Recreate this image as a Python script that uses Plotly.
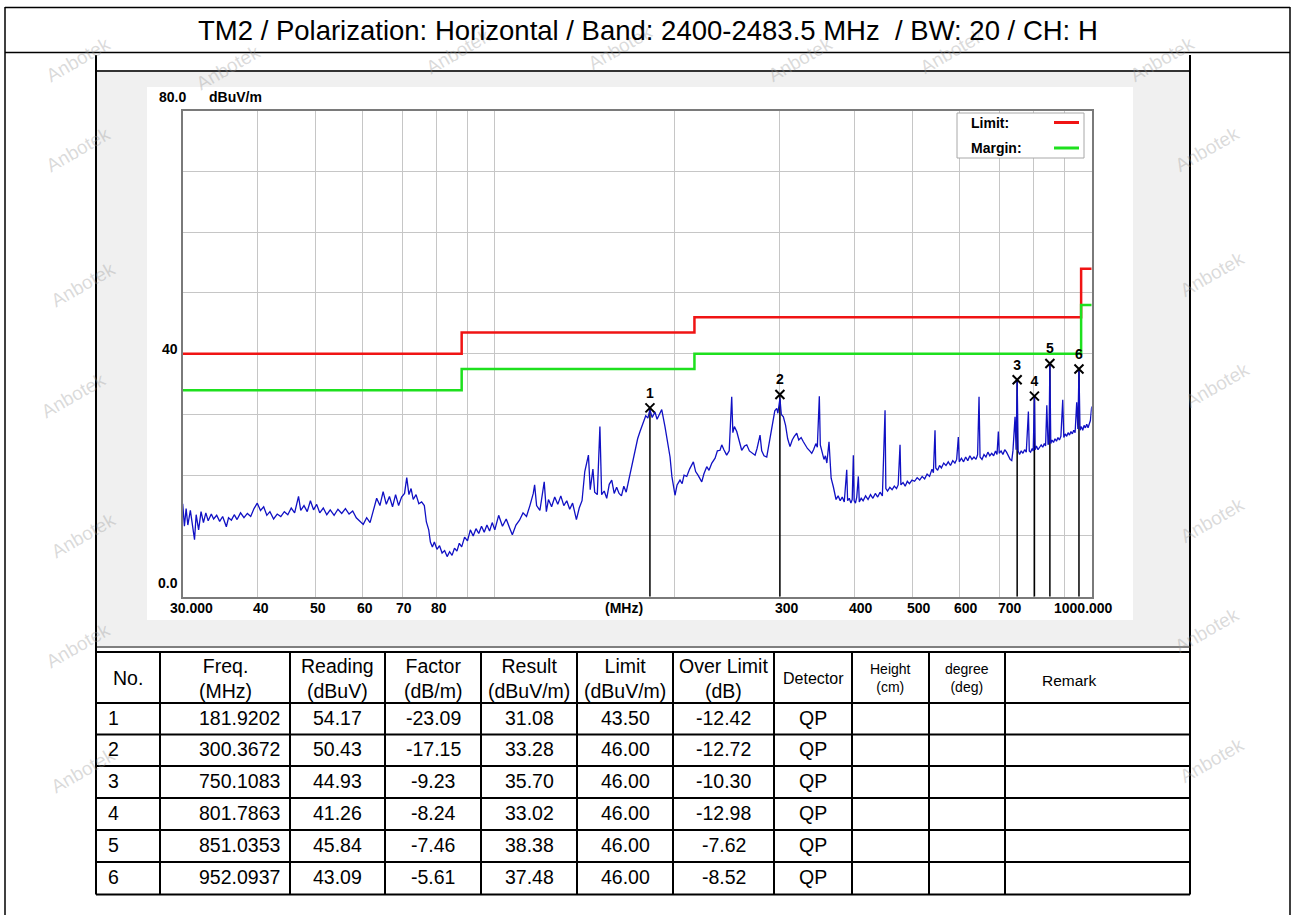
import math
import plotly.graph_objects as go

W, H = 1292, 915


def px(x):
    return x / W


def py(y):
    return 1 - y / H


# ---------------- data ----------------
FREQ_MHZ = [
    30.0, 30.2, 30.4, 30.6, 30.9, 31.1, 31.4, 31.6, 31.9, 32.2, 32.5, 32.8, 33.1, 33.5, 33.8,
    34.2, 34.6, 35.0, 35.5, 35.8, 36.2, 36.6, 37.0, 37.5, 38.0, 38.5, 39.0, 39.5, 40.0, 40.5,
    41.0, 41.5, 42.0, 42.6, 43.2, 43.8, 44.4, 45.0, 45.6, 46.2, 46.9, 47.3, 47.9, 48.5, 49.1,
    49.7, 50.3, 50.9, 51.6, 52.3, 53.0, 53.8, 54.6, 55.4, 56.2, 57.0, 57.8, 58.6, 59.4, 60.2,
    61.0, 61.8, 62.6, 63.4, 64.2, 65.0, 65.8, 66.6, 67.4, 68.2, 69.0, 69.8, 70.6, 71.2, 71.8,
    72.4, 73.0, 73.8, 74.6, 75.4, 76.2, 76.8, 77.5, 78.0, 78.6, 79.2, 80.0, 80.8, 81.6, 82.4,
    83.2, 84.0, 84.8, 85.6, 86.4, 87.2, 88.0, 89.0, 90.0, 91.0, 92.0, 93.0, 94.0, 95.0, 96.0,
    97.0, 98.0, 99.0, 100.0, 101.5, 103.0, 104.5, 106.0, 107.0, 108.5, 110.0, 111.5, 113.0, 114.5, 116.0,
    116.6, 117.5, 119.0, 120.0, 121.0, 122.0, 123.0, 124.5, 126.0, 127.5, 129.0, 130.5, 132.0, 133.5, 135.0,
    137.0, 138.5, 140.0, 141.5, 143.5, 144.5, 146.0, 147.0, 148.5, 150.0, 151.0, 152.5, 154.0, 155.5, 157.0,
    158.5, 160.0, 161.5, 163.0, 164.5, 166.0, 167.5, 169.0, 170.5, 172.0, 173.5, 175.1, 177.0, 179.0, 180.5,
    181.9, 183.5, 185.5, 187.0, 189.0, 190.4, 192.8, 194.5, 196.6, 198.0, 200.4, 202.0, 204.3, 206.0, 207.5,
    209.7, 212.0, 215.1, 217.0, 219.0, 222.2, 224.0, 226.5, 228.5, 231.0, 233.9, 236.0, 238.4, 240.0, 242.0,
    244.6, 247.0, 249.4, 250.5, 252.0, 254.3, 256.5, 259.2, 262.0, 264.3, 267.0, 270.0, 272.9, 275.0, 278.2,
    280.0, 282.5, 285.5, 288.0, 290.5, 292.8, 294.5, 296.7, 298.0, 299.3, 300.4, 302.0, 304.4, 307.0, 309.5,
    312.3, 315.0, 317.5, 320.5, 323.0, 326.0, 328.8, 331.0, 334.0, 337.0, 339.6, 342.0, 345.0, 347.0, 349.7,
    351.0, 353.0, 356.0, 358.0, 360.0, 363.0, 364.5, 366.0, 369.1, 371.0, 373.0, 376.0, 379.0, 382.0, 385.0,
    388.7, 390.0, 392.5, 395.0, 397.0, 398.7, 400.0, 402.0, 404.0, 406.5, 408.0, 411.0, 414.0, 418.0, 422.0,
    426.0, 430.0, 434.0, 438.0, 442.0, 446.0, 450.6, 452.0, 455.0, 459.0, 463.0, 467.0, 471.0, 474.0, 477.4,
    479.0, 483.0, 487.0, 491.0, 495.0, 500.0, 505.0, 510.0, 515.0, 520.0, 525.0, 530.0, 535.0, 540.0, 543.0,
    546.4, 548.0, 552.0, 556.0, 560.0, 565.0, 570.0, 575.0, 580.0, 585.0, 590.0, 594.0, 597.8, 600.0, 605.0,
    610.0, 615.0, 620.0, 625.0, 630.0, 635.0, 640.0, 644.0, 647.5, 650.0, 655.0, 660.0, 665.0, 670.0, 675.0,
    680.0, 685.0, 690.0, 694.0, 697.6, 700.0, 705.0, 710.0, 715.0, 720.0, 725.0, 730.0, 734.6, 738.0, 744.0,
    747.0, 750.1, 753.0, 757.0, 762.0, 767.0, 772.0, 777.0, 783.3, 786.0, 790.0, 795.0, 798.0, 801.8, 804.0,
    808.0, 813.0, 818.0, 823.0, 828.0, 833.0, 837.0, 841.0, 845.0, 848.0, 851.0, 854.0, 858.0, 863.0, 868.0,
    873.0, 878.0, 883.0, 888.0, 894.3, 898.0, 903.0, 908.0, 913.0, 918.0, 923.0, 928.0, 933.0, 938.0, 943.8,
    948.0, 952.1, 956.0, 961.0, 966.0, 971.0, 976.0, 981.0, 986.0, 991.0, 995.0, 1000.0,
]
LEVEL_DBUV = [
    15.3, 11.6, 14.5, 11.8, 14.2, 12.0, 9.4, 13.5, 11.0, 14.0, 12.2, 13.8, 12.5, 13.6, 12.8,
    13.4, 12.4, 13.2, 11.5, 13.0, 12.6, 13.5, 12.7, 13.8, 13.0, 13.7, 13.2, 14.5, 15.4, 14.2,
    14.8, 13.4, 14.0, 12.8, 13.6, 13.2, 14.0, 13.5, 14.6, 13.8, 16.5, 14.2, 15.0, 14.0, 15.8,
    14.3, 15.2, 13.8, 14.6, 13.5, 14.3, 13.4, 14.4, 13.7, 14.5, 13.6, 14.1, 13.0, 12.4, 11.9,
    13.0, 12.2, 14.2, 16.2, 15.0, 17.3, 15.2, 16.5, 14.8, 16.8, 15.0, 16.4, 17.0, 19.6, 16.8,
    17.8, 16.0, 16.8, 15.3, 15.6, 15.0, 12.3, 11.0, 9.0, 8.2, 9.0, 7.8, 8.4, 7.2, 7.6,
    6.6, 7.4, 6.8, 8.0, 7.5, 8.8, 8.2, 9.8, 9.2, 11.0, 10.0, 11.2, 10.4, 11.6, 10.6,
    11.8, 10.8, 12.2, 11.0, 13.4, 11.6, 12.8, 11.2, 10.2, 11.8, 12.6, 13.8, 13.2, 15.0, 17.0,
    18.4, 15.0, 14.2, 16.5, 18.9, 14.0, 16.0, 14.8, 16.4, 15.2, 16.6, 15.0, 15.8, 14.4, 15.4,
    12.7, 14.6, 15.8, 20.6, 23.3, 17.6, 21.0, 17.2, 16.8, 28.0, 16.8, 17.4, 16.2, 18.5, 19.2,
    17.0, 18.0, 17.0, 16.6, 18.2, 17.2, 19.0, 20.9, 22.5, 24.0, 26.0, 27.2, 28.6, 29.8, 29.4,
    30.8, 29.5, 30.4, 29.2, 30.0, 30.8, 28.0, 25.5, 23.0, 19.8, 16.7, 18.4, 19.2, 18.6, 20.0,
    19.8, 21.0, 22.2, 20.6, 20.0, 18.9, 20.2, 21.4, 20.8, 22.0, 22.8, 24.0, 24.1, 25.0, 24.2,
    23.3, 24.0, 32.9, 27.0, 28.0, 27.2, 25.8, 24.1, 24.8, 25.0, 24.0, 23.6, 23.3, 24.4, 26.6,
    24.0, 23.2, 23.0, 25.2, 27.8, 29.1, 30.6, 31.0, 30.2, 31.5, 32.6, 30.0, 29.6, 28.2, 26.0,
    24.7, 25.8, 26.4, 26.9, 25.8, 26.2, 25.5, 25.0, 24.4, 24.0, 23.6, 24.2, 25.2, 24.6, 33.0,
    25.0, 24.2, 22.6, 23.2, 22.0, 25.5, 21.4, 19.5, 18.1, 16.8, 16.0, 16.6, 15.8, 16.4, 15.6,
    20.9, 15.8, 16.2, 15.4, 16.0, 23.3, 15.8, 15.4, 16.4, 19.8, 15.6, 16.2, 15.8, 16.6, 16.0,
    16.8, 16.2, 17.0, 16.4, 17.2, 16.6, 30.7, 17.8, 17.4, 18.0, 17.6, 18.2, 17.8, 18.4, 25.0,
    18.4, 18.8, 18.2, 19.0, 18.6, 19.2, 19.0, 19.6, 19.2, 19.8, 19.4, 20.2, 19.8, 21.0, 20.4,
    27.4, 21.2, 20.8, 21.6, 21.2, 22.0, 21.6, 22.2, 21.6, 22.4, 22.0, 22.6, 26.3, 22.2, 22.8,
    22.2, 23.0, 22.4, 23.2, 22.6, 23.0, 22.6, 23.4, 32.9, 23.0, 22.6, 23.4, 23.0, 23.8, 23.2,
    23.6, 23.2, 24.0, 23.4, 27.2, 23.6, 24.0, 23.4, 24.2, 23.8, 23.2, 22.6, 22.4, 24.0, 29.6,
    24.2, 35.7, 24.0, 23.4, 24.0, 23.6, 24.2, 23.8, 30.5, 24.0, 23.8, 24.4, 24.0, 33.0, 24.2,
    24.8, 24.2, 24.6, 25.0, 24.6, 25.2, 24.8, 31.5, 25.0, 25.4, 38.4, 25.2, 25.8, 25.4, 26.0,
    25.6, 26.2, 25.8, 26.4, 32.4, 26.2, 26.8, 26.4, 27.0, 26.6, 27.2, 26.8, 27.4, 27.0, 32.0,
    27.6, 37.5, 27.4, 28.0, 27.4, 28.2, 27.8, 28.4, 27.8, 28.6, 29.0, 31.3,
]

LIMIT_FREQ = [30, 88, 216, 960, 1000]
LIMIT_DBUV = [40, 43.5, 46, 54, 54]
MARGIN_DBUV = [34, 37.5, 40, 48, 48]

MARK_NO = ["1", "2", "3", "4", "5", "6"]
MARK_FREQ = [181.9202, 300.3672, 750.1083, 801.7863, 851.0353, 952.0937]
READING = [54.17, 50.43, 44.93, 41.26, 45.84, 43.09]
FACTOR = [-23.09, -17.15, -9.23, -8.24, -7.46, -5.61]
RESULT = [31.08, 33.28, 35.70, 33.02, 38.38, 37.48]
LIMIT_AT = [43.50, 46.00, 46.00, 46.00, 46.00, 46.00]
OVER_LIMIT = [-12.42, -12.72, -10.30, -12.98, -7.62, -8.52]
DETECTOR = ["QP", "QP", "QP", "QP", "QP", "QP"]

GRID_FREQ = [30, 40, 50, 60, 70, 80, 90, 100, 200, 300, 400, 500, 600, 700, 800, 900, 1000]
TICK_FREQ = [30, 40, 50, 60, 70, 80, 300, 400, 500, 600, 700, 1000]
TICK_TEXT = ["30.000", "40", "50", "60", "70", "80", "300", "400", "500", "600", "700", "1000.000"]

TITLE = "TM2 / Polarization: Horizontal / Band: 2400-2483.5 MHz\u00a0 / BW: 20 / CH: H"
HEADERS = ["No.", "Freq.<br>(MHz)", "Reading<br>(dBuV)", "Factor<br>(dB/m)", "Result<br>(dBuV/m)",
           "Limit<br>(dBuV/m)", "Over Limit<br>(dB)", "Detector", "Height<br>(cm)",
           "degree<br>(deg)", "Remark"]

# ---------------- styles / layout positions ----------------
FONT = "Liberation Sans, Arial, sans-serif"
RED = "#f01414"
GREEN = "#1ee01e"
BLUE = "#1010c4"
GRID = "#c6c6c6"

PLOT_L, PLOT_R, PLOT_T, PLOT_B = 182.7, 1091.7, 110.7, 596.7
COLS = [96, 160, 290, 385, 481, 577, 673, 774, 852, 929, 1005, 1190]
ROWS = [652, 703, 734.5, 766, 798, 830, 862, 894.5]
TICK_SHIFT = [9, 4, 3, 3, 2, 2, 7, 7, 7, 7, 11, -8]
HEAD_SIZE = [19.5, 19.5, 19.5, 19.5, 19.5, 19.5, 19.5, 16, 14, 14, 15.5]

fig = go.Figure()

fig.add_trace(go.Scatter(x=LIMIT_FREQ, y=LIMIT_DBUV, mode="lines",
                         line=dict(color=RED, width=2.5, shape="hv"),
                         showlegend=False, hoverinfo="skip"))
fig.add_trace(go.Scatter(x=LIMIT_FREQ, y=MARGIN_DBUV, mode="lines",
                         line=dict(color=GREEN, width=2.5, shape="hv"),
                         showlegend=False, hoverinfo="skip"))

mx, my = [], []
for f, r in zip(MARK_FREQ, RESULT):
    mx += [f, f, None]
    my += [0, r, None]
fig.add_trace(go.Scatter(x=mx, y=my, mode="lines", line=dict(color="black", width=1.5),
                         showlegend=False, hoverinfo="skip"))

fig.add_trace(go.Scatter(x=FREQ_MHZ, y=LEVEL_DBUV, mode="lines",
                         line=dict(color=BLUE, width=1.3),
                         showlegend=False, hoverinfo="skip"))

fig.add_trace(go.Scatter(x=MARK_FREQ, y=RESULT, mode="markers+text", text=MARK_NO,
                         textposition="top center",
                         textfont=dict(family=FONT, size=14, color="black", weight="bold"),
                         marker=dict(symbol="x-thin", size=9, color="black",
                                     line=dict(width=2, color="black")),
                         showlegend=False, hoverinfo="skip", cliponaxis=False))

shapes = []


def hline(y, x0, x1, color="black", width=2):
    shapes.append(dict(type="line", xref="paper", yref="paper", x0=px(x0), x1=px(x1),
                       y0=py(y), y1=py(y), line=dict(color=color, width=width)))


def vline(x, y0, y1, color="black", width=2):
    shapes.append(dict(type="line", xref="paper", yref="paper", x0=px(x), x1=px(x),
                       y0=py(y0), y1=py(y1), line=dict(color=color, width=width)))


def rect(x0, y0, x1, y1, fill, line_color=None, width=0, layer="below"):
    shapes.append(dict(type="rect", xref="paper", yref="paper", x0=px(x0), x1=px(x1),
                       y0=py(y1), y1=py(y0), fillcolor=fill, layer=layer,
                       line=dict(color=line_color or fill, width=width)))


# panel backgrounds
rect(97, 72, 1189, 646, "#f0f0f0")
rect(147, 87, 1133, 620, "#ffffff")

# outer frame + title bar
vline(5, 7, 920, width=1.5)
vline(1290, 7, 920, width=1.5)
hline(7.5, 5, 1290, width=1.5)
hline(52.5, 5, 1290, width=1.5)

# chart panel frame
hline(71, 96, 1190, color="#333333", width=2)
hline(647, 96, 1190, color="#555555", width=1.5)
vline(96, 55, ROWS[-1], width=2)
vline(1190, 55, ROWS[-1], width=2)

# table grid
for r in ROWS:
    hline(r, 96, 1190, width=2)
for c in COLS[1:-1]:
    vline(c, ROWS[0], ROWS[-1], width=2)

# custom legend box
rect(957, 113, 1084, 158, "#ffffff", line_color="#a8a8a8", width=1, layer="above")
hline(122.5, 1054, 1079, color=RED, width=3)
hline(148, 1054, 1079, color=GREEN, width=3)

ann = []


def text(x, y, s, size, bold=False, anchor="center", xref="paper", color="black"):
    ann.append(dict(x=x if xref != "paper" else px(x), y=py(y), xref=xref, yref="paper", text=s,
                    showarrow=False, xanchor=anchor, yanchor="middle",
                    font=dict(family=FONT, size=size, color=color,
                              weight="bold" if bold else "normal")))


# watermarks
WM = [(40, 30), (190, 38), (420, 22), (620, 18), (800, 30), (990, 22), (1200, 30),
      (40, 120), (45, 255), (35, 395), (45, 535), (40, 675), (45, 800),
      (1245, 120), (1250, 245), (1255, 385), (1250, 520), (1245, 660), (1250, 790)]
for (wx, wy) in WM:
    ann.append(dict(x=px(wx), y=py(wy), xref="paper", yref="paper", text="Anbotek",
                    showarrow=False, textangle=-30,
                    font=dict(family=FONT, size=19, color="rgba(150,150,150,0.35)")))

# title
text(648, 31, TITLE, 27.5)

# axis texts
text(172, 97, "80.0", 14, bold=True)
text(235, 97, "dBuV/m", 14, bold=True)
text(170, 349, "40", 14, bold=True)
text(167.5, 583, "0.0", 14, bold=True)
text(624, 608, "(MHz)", 14, bold=True)
for v, t, s in zip(TICK_FREQ, TICK_TEXT, TICK_SHIFT):
    ann.append(dict(x=math.log10(v), y=py(608), xref="x", yref="paper", text=t,
                    showarrow=False, xanchor="center", yanchor="middle", xshift=s,
                    font=dict(family=FONT, size=14, color="black", weight="bold")))

# legend text
text(969, 123, "Limit:", 14, bold=True, anchor="left")
text(969, 148, "Margin:", 14, bold=True, anchor="left")

# table header
hy = (ROWS[0] + ROWS[1]) / 2 + 0.5
for i, (h, s) in enumerate(zip(HEADERS, HEAD_SIZE)):
    if h == "Remark":
        text(1040, hy + 2, h, s, anchor="left")
    else:
        text((COLS[i] + COLS[i + 1]) / 2, hy, h, s)

# table rows
for k in range(len(MARK_NO)):
    cy = (ROWS[k + 1] + ROWS[k + 2]) / 2 - 1
    text(106, cy, MARK_NO[k], 19.5, anchor="left")
    text(282, cy, f"{MARK_FREQ[k]:.4f}", 19.5, anchor="right")
    vals = [f"{READING[k]:.2f}", f"{FACTOR[k]:.2f}", f"{RESULT[k]:.2f}",
            f"{LIMIT_AT[k]:.2f}", f"{OVER_LIMIT[k]:.2f}", DETECTOR[k]]
    for j, v in enumerate(vals):
        c = j + 2
        text((COLS[c] + COLS[c + 1]) / 2, cy, v, 19.5)

fig.update_layout(
    width=W, height=H, autosize=False,
    margin=dict(l=0, r=0, t=0, b=0),
    paper_bgcolor="white", plot_bgcolor="white",
    hovermode=False,
    shapes=shapes, annotations=ann,
    xaxis=dict(type="log", range=[math.log10(30), math.log10(1000)],
               domain=[px(PLOT_L), px(PLOT_R)], tickvals=GRID_FREQ, showticklabels=False,
               ticks="", showgrid=True, gridcolor=GRID, gridwidth=1,
               showline=True, linecolor="#7a7a7a", linewidth=2, mirror=True,
               zeroline=False, fixedrange=True),
    yaxis=dict(range=[0, 80], domain=[py(PLOT_B), py(PLOT_T)], tick0=0, dtick=10,
               showticklabels=False, ticks="", showgrid=True, gridcolor=GRID, gridwidth=1,
               showline=True, linecolor="#7a7a7a", linewidth=2, mirror=True,
               zeroline=False, fixedrange=True),
)

fig.write_html("out.html", config={"displayModeBar": False},
               post_script="document.body.style.margin='0';document.body.style.overflow='hidden';")
